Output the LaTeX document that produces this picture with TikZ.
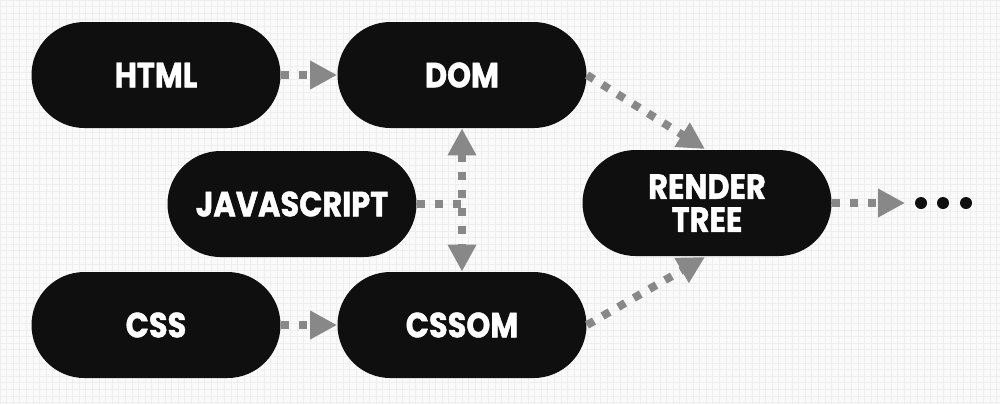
\documentclass[tikz,border=0pt]{standalone}
\usepackage{fontspec}
\setmainfont{Poppins}[FakeStretch=0.87, BoldFeatures={FakeBold=1.2}]
\usetikzlibrary{arrows.meta}
\definecolor{pillfill}{HTML}{0F0F0F}
\definecolor{arrowgray}{HTML}{888888}
\definecolor{bgcol}{HTML}{FAFAFA}
\definecolor{gridcol}{HTML}{EEEEEE}
\tikzset{
  pill/.style={draw=none, fill=pillfill, rectangle, rounded corners=26.5pt,
    minimum width=124.5pt, minimum height=53pt, inner sep=0pt,
    text=white, font=\fontsize{17.5}{16.5}\selectfont\bfseries, align=center},
  conn/.style={draw=arrowgray, line width=4pt, dash pattern=on 4pt off 5pt},
  tip/.style={-{Triangle[length=13.5pt,width=13.5pt]}},
  dot/.style={circle, fill=pillfill, minimum size=6pt, inner sep=0pt}
}
\begin{document}
\begin{tikzpicture}[x=0.5pt,y=-0.5pt]
\useasboundingbox (0,0) rectangle (1000,404);
\fill[bgcol] (0,0) rectangle (1000,404);
\draw[gridcol, line width=0.5pt, step=3.3pt] (0,0) grid (1000,404);
\node[pill] (html) at (156,75) {HTML};
\node[pill] (dom) at (462,75) {DOM};
\node[pill] (js) at (292,204) {JAVASCRIPT};
\node[pill] (css) at (156,325) {CSS};
\node[pill] (cssom) at (462,325) {CSSOM};
\node[pill] (render) at (707,203) {RENDER\\TREE};
\node[dot] (d1) at (921,203) {};
\node[dot] (d2) at (943,203) {};
\node[dot] (d3) at (966,203) {};
\coordinate (j) at (462,204);
\coordinate (domr) at (587,75);
\coordinate (cssomr) at (587,325);
\coordinate (rtop) at (705,149);
\coordinate (rbot) at (705,257);
\coordinate (dots) at (905,203);
\draw[conn,tip] (html.east) -- (dom.west);
\draw[conn,tip] (css.east) -- (cssom.west);
\draw[conn,tip] (domr) -- (rtop);
\draw[conn,tip] (cssomr) -- (rbot);
\draw[conn,tip] (render.east) -- (dots);
\draw[conn] (js.east) -- (j);
\draw[conn,{Triangle[length=13.5pt,width=13.5pt]}-{Triangle[length=13.5pt,width=13.5pt]}] (dom.south) -- (cssom.north);
\end{tikzpicture}
\end{document}
